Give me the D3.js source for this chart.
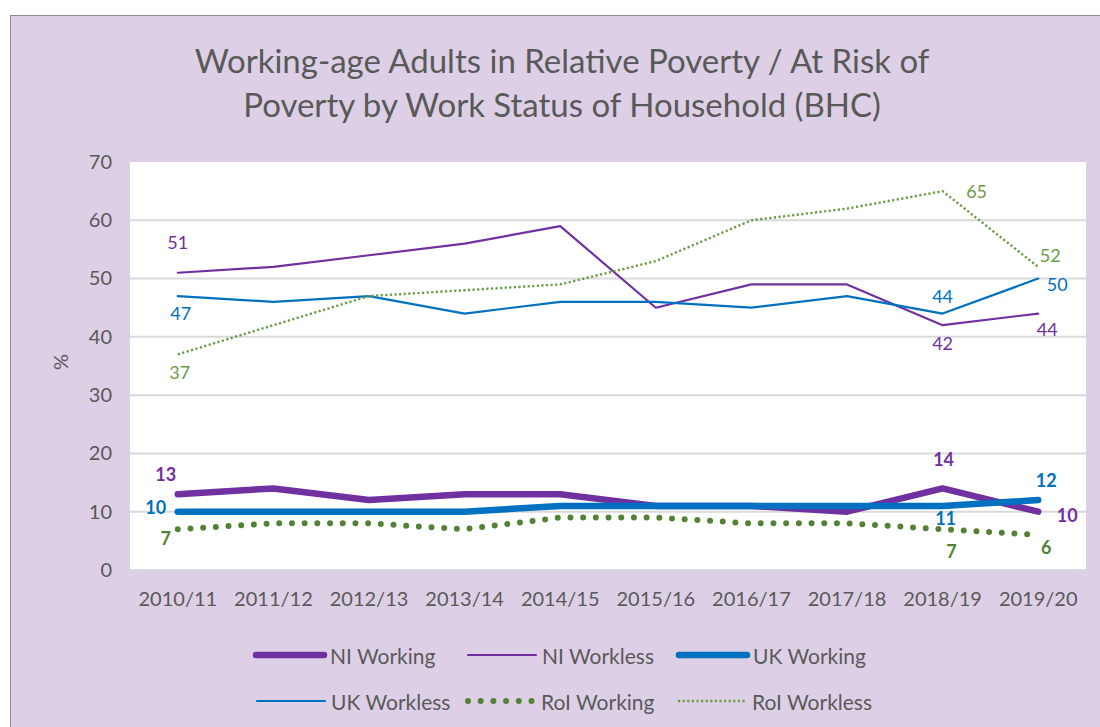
<!DOCTYPE html>
<html>
<head>
<meta charset="utf-8">
<script src="https://cdn.jsdelivr.net/npm/d3@7"></script>
<style>
  html, body { margin: 0; padding: 0; background: #ffffff; }
  svg { display: block; font-family: Lato, "Open Sans", sans-serif; }
</style>
</head>
<body>
<svg id="chart" width="1100" height="727"></svg>
<script>
// Financial years on the x axis
const years = ["2010/11", "2011/12", "2012/13", "2013/14", "2014/15",
               "2015/16", "2016/17", "2017/18", "2018/19", "2019/20"];

// Percentage of working-age adults in poverty, by household work status
const niWorking   = [13, 14, 12, 13, 13, 11, 11, 10, 14, 10];
const niWorkless  = [51, 52, 54, 56, 59, 45, 49, 49, 42, 44];
const ukWorking   = [10, 10, 10, 10, 11, 11, 11, 11, 11, 12];
const ukWorkless  = [47, 46, 47, 44, 46, 46, 45, 47, 44, 50];
const roiWorking  = [7, 8, 8, 7, 9, 9, 8, 8, 7, 6];
const roiWorkless = [37, 42, 47, 48, 49, 53, 60, 62, 65, 52];

const yTicks = [0, 10, 20, 30, 40, 50, 60, 70];

const titleLines = ["Working-age Adults in Relative Poverty / At Risk of",
                    "Poverty by Work Status of Household (BHC)"];

const PURPLE = "#7030A0", BLUE = "#0070C0", GREEN = "#548235", LIGHTGREEN = "#6A9C44";
const TEXT = "#595959";

// Series in drawing order (later ones sit on top)
const series = [
  { name: "NI Working",   values: niWorking,   color: PURPLE,     width: 6.5, style: "solid", bold: true },
  { name: "NI Workless",  values: niWorkless,  color: PURPLE,     width: 2.2, style: "solid", bold: false },
  { name: "UK Working",   values: ukWorking,   color: BLUE,       width: 6.5, style: "solid", bold: true },
  { name: "UK Workless",  values: ukWorkless,  color: BLUE,       width: 2.2, style: "solid", bold: false },
  { name: "RoI Working",  values: roiWorking,  color: GREEN,      width: 6,   style: "dots",  bold: true },
  { name: "RoI Workless", values: roiWorkless, color: LIGHTGREEN, width: 2.4, style: "dotted", bold: false }
];

// Which points carry a value label, and where the label sits relative to the point
const labelled = [
  ["NI Workless", 0, 0, -31], ["NI Workless", 8, 0, 18], ["NI Workless", 9, 9, 15],
  ["UK Workless", 0, 3, 17], ["UK Workless", 8, 0, -18], ["UK Workless", 9, 19, 5],
  ["RoI Workless", 0, 2, 18], ["RoI Workless", 8, 34, 0], ["RoI Workless", 9, 12, -12],
  ["NI Working", 0, -12, -20], ["NI Working", 8, 1, -29], ["NI Working", 9, 29, 3],
  ["UK Working", 0, -22, -5], ["UK Working", 8, 3, 12], ["UK Working", 9, 8, -20],
  ["RoI Working", 0, -12, 9], ["RoI Working", 8, 9, 22], ["RoI Working", 9, 8, 12]
];

const svg = d3.select("#chart");

// Lavender chart background with a thin grey frame
svg.append("rect")
  .attr("x", 10.5).attr("y", 15.5)
  .attr("width", 1100).attr("height", 730)
  .attr("fill", "#DDD0E6")
  .attr("stroke", "#8C8C8C").attr("stroke-width", 1);

const plot = { left: 130, right: 1086, top: 162, bottom: 570 };

const x = d3.scaleBand().domain(years).range([plot.left, plot.right]).padding(0);
const y = d3.scaleLinear().domain([0, 70]).range([plot.bottom, plot.top]);
const cx = d => x(d) + x.bandwidth() / 2;

// White plot area
svg.append("rect")
  .attr("x", plot.left).attr("y", plot.top)
  .attr("width", plot.right - plot.left).attr("height", plot.bottom - plot.top)
  .attr("fill", "#ffffff");

// Horizontal gridlines
svg.append("g")
  .selectAll("line")
  .data(yTicks.filter(t => t < 70))
  .join("line")
  .attr("x1", plot.left).attr("x2", plot.right)
  .attr("y1", d => y(d)).attr("y2", d => y(d))
  .attr("stroke", "#D9D9D9").attr("stroke-width", 2);

// Y axis
const yAxis = svg.append("g")
  .attr("transform", `translate(${plot.left},0)`)
  .call(d3.axisLeft(y).tickValues(yTicks).tickSize(0).tickPadding(18));
yAxis.select(".domain").remove();
yAxis.selectAll("text")
  .attr("fill", TEXT).attr("font-size", 20)
  .attr("font-family", "Lato, sans-serif");

// X axis
const xAxis = svg.append("g")
  .attr("transform", `translate(0,${plot.bottom})`)
  .call(d3.axisBottom(x).tickSize(0).tickPadding(22));
xAxis.select(".domain").remove();
xAxis.selectAll("text")
  .attr("fill", TEXT).attr("font-size", 20)
  .attr("font-family", "Lato, sans-serif");

// Y axis title
svg.append("text")
  .attr("transform", "translate(68,362) rotate(-90)")
  .attr("text-anchor", "middle")
  .attr("fill", TEXT).attr("font-size", 20)
  .text("%");

// Chart title
svg.append("g").selectAll("text")
  .data(titleLines)
  .join("text")
  .attr("x", 562).attr("y", (d, i) => 73 + i * 44)
  .attr("text-anchor", "middle")
  .attr("fill", TEXT).attr("font-size", 33)
  .text(d => d);

function applyStyle(sel, s) {
  sel.attr("fill", "none")
    .attr("stroke", s.color)
    .attr("stroke-width", s.width)
    .attr("stroke-linejoin", "round");
  if (s.style === "dots") {
    sel.attr("stroke-dasharray", "0 12.7").attr("stroke-linecap", "round");
  } else if (s.style === "dotted") {
    sel.attr("stroke-dasharray", "2.2 2.4").attr("stroke-linecap", "butt");
  } else {
    sel.attr("stroke-linecap", "round");
  }
  return sel;
}

// Lines
const line = d3.line()
  .x((d, i) => cx(years[i]))
  .y(d => y(d));

series.forEach(s => {
  svg.append("path")
    .datum(s.values)
    .attr("d", line)
    .call(applyStyle, s);
});

// Value labels
const byName = Object.fromEntries(series.map(s => [s.name, s]));
svg.append("g").selectAll("text")
  .data(labelled)
  .join("text")
  .attr("x", d => cx(years[d[1]]) + d[2])
  .attr("y", d => y(byName[d[0]].values[d[1]]) + d[3])
  .attr("text-anchor", "middle")
  .attr("dominant-baseline", "central")
  .attr("font-size", 18)
  .attr("font-weight", d => byName[d[0]].bold ? 700 : 400)
  .attr("fill", d => byName[d[0]].color)
  .text(d => byName[d[0]].values[d[1]]);

// Legend: two rows of three entries
const legendPos = [
  [254, 655], [466, 655], [677, 655],
  [255, 701], [465, 701], [676, 701]
];
const legend = svg.append("g");
series.forEach((s, i) => {
  const [lx, ly] = legendPos[i];
  const g = legend.append("g").attr("transform", `translate(${lx},${ly})`);
  g.append("line")
    .attr("x1", s.style === "dots" ? 3 : 2).attr("x2", 70)
    .attr("y1", 0).attr("y2", 0)
    .call(applyStyle, s);
  g.append("text")
    .attr("x", 76).attr("y", 0)
    .attr("dominant-baseline", "central")
    .attr("fill", TEXT).attr("font-size", 21)
    .text(s.name);
});
</script>
</body>
</html>
